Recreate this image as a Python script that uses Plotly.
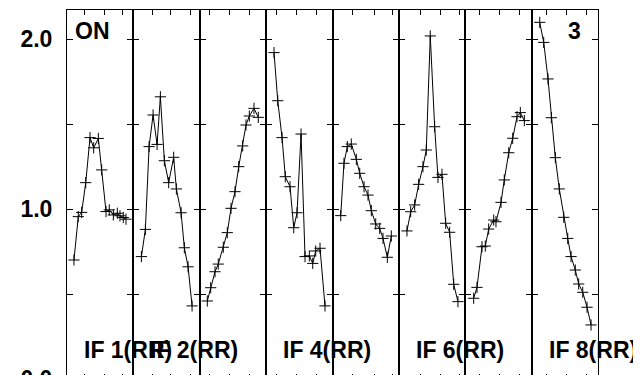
import plotly.graph_objects as go

# ---- data (x: position within each IF panel, 0-100; y: amplitude) ----
panel_labels = ["IF 1(RR)", "IF 2(RR)", "", "IF 4(RR)", "", "IF 6(RR)", "", "IF 8(RR)"]

x1 = [10.5, 17.0, 22.1, 28.2, 34.7, 40.2, 47.2, 52.3, 58.8, 63.7, 69.8, 75.8, 79.8, 84.8, 88.9]
y1 = [0.70, 0.955, 0.98, 1.155, 1.42, 1.36, 1.415, 1.23, 0.985, 0.995, 0.965, 0.975, 0.96, 0.95, 0.94]

x2 = [12.1, 18.1, 23.7, 29.7, 35.7, 40.7, 46.7, 53.2, 60.7, 64.8, 71.9, 76.8, 82.4, 88.4]
y2 = [0.72, 0.88, 1.367, 1.553, 1.38, 1.66, 1.284, 1.155, 1.304, 1.118, 0.978, 0.772, 0.66, 0.43]

x3 = [11.4, 16.5, 23.0, 27.9, 35.5, 41.5, 47.1, 53.1, 58.7, 64.7, 69.7, 74.7, 81.7, 88.2]
y3 = [0.459, 0.537, 0.631, 0.676, 0.775, 0.861, 1.004, 1.102, 1.249, 1.371, 1.494, 1.547, 1.592, 1.539]

x4 = [11.9, 17.5, 24.0, 28.9, 36.0, 41.6, 46.6, 52.6, 58.6, 65.1, 70.2, 74.7, 81.2, 88.7]
y4 = [1.92, 1.637, 1.42, 1.19, 1.131, 0.89, 0.978, 1.441, 0.72, 0.724, 0.68, 0.753, 0.769, 0.43]

x5 = [12.4, 17.3, 22.3, 28.3, 35.9, 41.0, 47.5, 53.5, 58.5, 65.1, 71.1, 76.1, 82.6, 88.6]
y5 = [0.961, 1.269, 1.367, 1.382, 1.292, 1.21, 1.131, 1.082, 0.99, 0.912, 0.886, 0.827, 0.716, 0.841]

x6 = [12.2, 17.8, 23.8, 29.8, 36.3, 41.3, 47.3, 53.9, 58.9, 64.9, 70.5, 76.5, 82.6, 89.0]
y6 = [0.871, 0.984, 1.024, 1.145, 1.249, 1.347, 2.018, 1.484, 1.186, 1.204, 0.916, 0.863, 0.557, 0.455]

x7 = [12.7, 17.7, 25.2, 30.2, 35.3, 42.9, 46.3, 53.9, 58.8, 65.5, 71.5, 78.0, 83.0, 89.0]
y7 = [0.475, 0.539, 0.778, 0.782, 0.882, 0.935, 0.925, 1.039, 1.171, 1.331, 1.416, 1.543, 1.567, 1.52]

x8 = [12.2, 18.2, 24.7, 29.7, 35.7, 41.7, 48.4, 54.4, 59.4, 65.8, 70.9, 77.0, 83.5, 89.5]
y8 = [2.098, 1.98, 1.765, 1.537, 1.302, 1.118, 0.951, 0.827, 0.72, 0.641, 0.559, 0.51, 0.422, 0.318]

xs = [x1, x2, x3, x4, x5, x6, x7, x8]
ys = [y1, y2, y3, y4, y5, y6, y7, y8]

x_tickvals = [
    [27, 56, 84], [29, 56, 86], [15, 45, 75], [16, 46, 76],
    [30, 63, 90], [32, 62, 92], [22, 52, 82], [23, 53, 83],
]
y_tickvals = [0.0, 0.5, 1.0, 1.5, 2.0]
y_ticktext = ["0.0", "", "1.0", "", "2.0"]

YMAX = 2.1706
FONT = "Liberation Sans, Arial, sans-serif"
FSIZE = 23

fig = go.Figure()
n = 8
layout = {}
for k in range(n):
    sfx = "" if k == 0 else str(k + 1)
    fig.add_trace(go.Scatter(
        x=xs[k], y=ys[k], mode="lines+markers",
        xaxis="x" + sfx, yaxis="y" + sfx,
        line=dict(color="black", width=1),
        marker=dict(symbol="cross-thin", size=8, line=dict(color="black", width=1)),
        showlegend=False, hoverinfo="skip",
    ))
    layout["xaxis" + sfx] = dict(
        domain=[k / n, (k + 1) / n], range=[0, 100], anchor="y" + sfx,
        showline=True, linecolor="black", linewidth=1, mirror="ticks",
        ticks="inside", ticklen=5, tickcolor="black", tickwidth=1,
        tickvals=x_tickvals[k], showticklabels=False, showgrid=False, zeroline=False,
        automargin=False,
    )
    ya = dict(
        domain=[0, 1], range=[0, YMAX], anchor="x" + sfx,
        showline=True, linecolor="black", linewidth=1, mirror="ticks",
        ticks="inside", ticklen=6, tickcolor="black", tickwidth=1,
        tickvals=y_tickvals, showgrid=False, zeroline=False, automargin=False,
    )
    if k == 0:
        ya.update(ticktext=y_ticktext, showticklabels=True,
                  tickfont=dict(family=FONT, size=FSIZE, color="black", weight="bold"),
                  ticklabelstandoff=9, ticklabeloverflow="allow")
    else:
        ya.update(showticklabels=False)
    layout["yaxis" + sfx] = ya

annotations = []
for k, lab in enumerate(panel_labels):
    if not lab:
        continue
    sfx = "" if k == 0 else str(k + 1)
    annotations.append(dict(
        text=lab, x=22.6, y=0.17, xref="x" + sfx, yref="y" + sfx,
        xanchor="left", yanchor="middle", showarrow=False,
        font=dict(family=FONT, size=FSIZE, color="black", weight="bold"),
    ))
annotations.append(dict(
    text="ON", x=9, y=2.05, xref="x", yref="y", xanchor="left", yanchor="middle",
    showarrow=False, font=dict(family=FONT, size=FSIZE, color="black", weight="bold"),
))
annotations.append(dict(
    text="3", x=77.4, y=2.05, xref="x8", yref="y8", xanchor="right", yanchor="middle",
    showarrow=False, font=dict(family=FONT, size=FSIZE, color="black", weight="bold"),
))

fig.update_layout(
    **layout,
    annotations=annotations,
    width=641, height=375, autosize=False,
    margin=dict(l=59, r=51, t=2, b=4, pad=0, autoexpand=False),
    paper_bgcolor="white", plot_bgcolor="white",
)

fig.write_html("out.html")
